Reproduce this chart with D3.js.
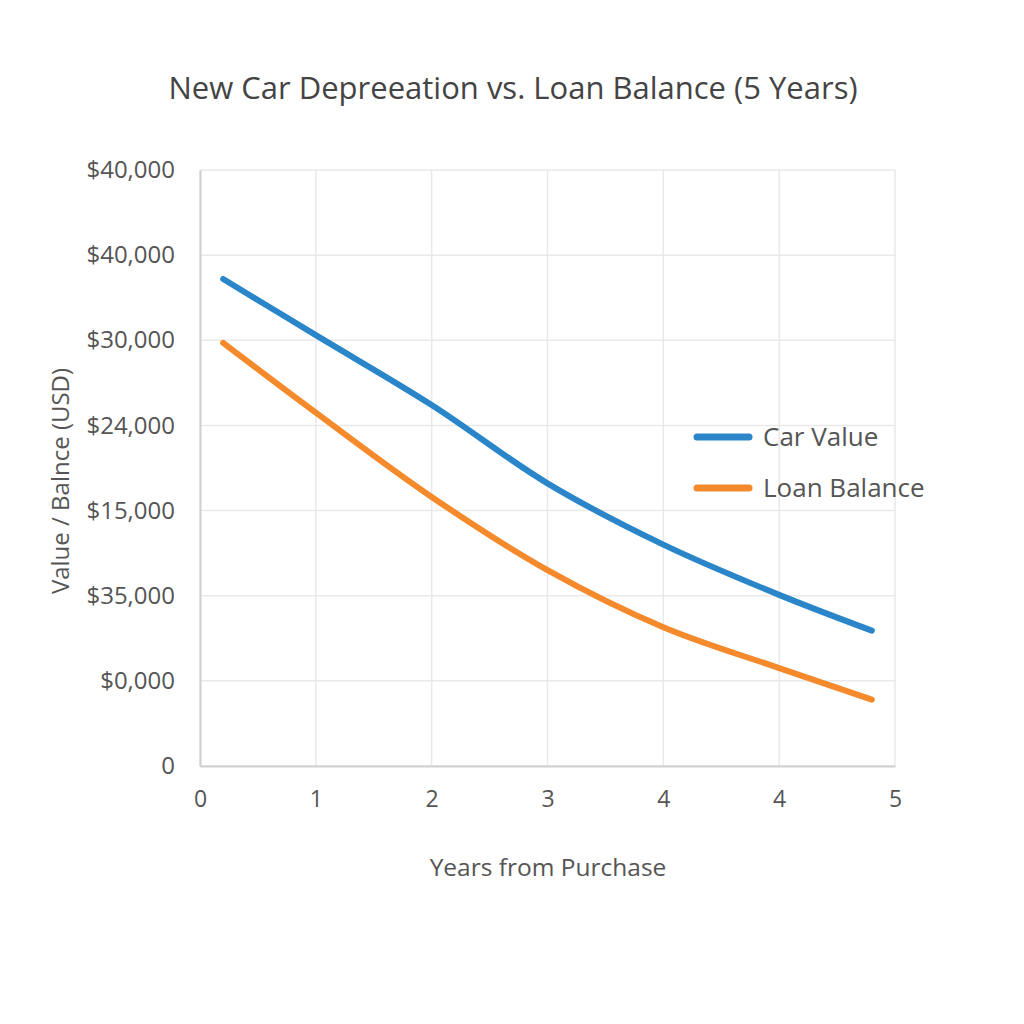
<!DOCTYPE html>
<html>
<head>
<meta charset="utf-8">
<script src="https://cdn.jsdelivr.net/npm/d3@7"></script>
<style>
  body { margin: 0; background: #fff; }
  text { font-family: "Open Sans", "Noto Sans", sans-serif; }
</style>
</head>
<body>
<div id="chart"></div>
<script>
// positions along the x axis (grid index) and tick labels as printed
let xTickLabels = ["0", "1", "2", "3", "4", "4", "5"];
let yTickLabels = ["0", "$0,000", "$35,000", "$15,000", "$24,000", "$30,000", "$40,000", "$40,000"];

let xPoints = [0.2, 1, 2, 3, 4, 5, 5.8];
let carValue = [28600, 25300, 21200, 16600, 13000, 10050, 7950];
let loanBalance = [24850, 20750, 15800, 11500, 8150, 5750, 3900];

let seriesNames = ["Car Value", "Loan Balance"];
let seriesColors = ["#2a86c9", "#f48a2c"];

let width = 1024, height = 1024;
let margin = {top: 170, right: 129, bottom: 258, left: 200};
let innerW = width - margin.left - margin.right;
let innerH = height - margin.top - margin.bottom;

let svg = d3.select("#chart")
    .append("svg")
    .attr("width", width)
    .attr("height", height);

let x = d3.scaleLinear().domain([0, 6]).range([margin.left, margin.left + innerW]);
let y = d3.scaleLinear().domain([0, 35000]).range([margin.top + innerH, margin.top]);
let yTicks = d3.range(0, 35001, 5000);

// gridlines
svg.append("g")
    .selectAll("line")
    .data(yTicks)
    .enter()
    .append("line")
    .attr("x1", x(0)).attr("x2", x(6))
    .attr("y1", d => y(d)).attr("y2", d => y(d))
    .attr("stroke", "#e9e9e9")
    .attr("stroke-width", 1.5);

svg.append("g")
    .selectAll("line")
    .data(d3.range(0, 7))
    .enter()
    .append("line")
    .attr("x1", d => x(d)).attr("x2", d => x(d))
    .attr("y1", y(0)).attr("y2", y(35000))
    .attr("stroke", "#e9e9e9")
    .attr("stroke-width", 1.5);

// axes
let xAxis = d3.axisBottom(x)
    .tickValues(d3.range(0, 7))
    .tickFormat((d, i) => xTickLabels[i])
    .tickSize(0)
    .tickPadding(25);
let gx = svg.append("g")
    .attr("transform", "translate(0," + y(0) + ")")
    .call(xAxis);
gx.select(".domain").attr("stroke", "#cfcfcf").attr("stroke-width", 2);
gx.selectAll("text").attr("font-size", 23).attr("fill", "#555")
    .style("font-family", "'Open Sans', sans-serif");

let yAxis = d3.axisLeft(y)
    .tickValues(yTicks)
    .tickFormat((d, i) => yTickLabels[i])
    .tickSize(0)
    .tickPadding(25);
let gy = svg.append("g")
    .attr("transform", "translate(" + x(0) + ",0)")
    .call(yAxis);
gy.select(".domain").attr("stroke", "#cfcfcf").attr("stroke-width", 2);
gy.selectAll("text").attr("font-size", 24).attr("fill", "#555")
    .style("font-family", "'Open Sans', sans-serif");

// lines
let line = d3.line()
    .x((d, i) => x(xPoints[i]))
    .y(d => y(d))
    .curve(d3.curveCatmullRom.alpha(0.5));

[carValue, loanBalance].forEach(function (data, k) {
    svg.append("path")
        .datum(data)
        .attr("d", line)
        .attr("fill", "none")
        .attr("stroke", seriesColors[k])
        .attr("stroke-width", 6)
        .attr("stroke-linecap", "round")
        .attr("stroke-linejoin", "round");
});

// legend
let legend = svg.append("g").attr("transform", "translate(697,437)");
seriesNames.forEach(function (name, k) {
    let g = legend.append("g").attr("transform", "translate(0," + (k * 51) + ")");
    g.append("line")
        .attr("x1", 0).attr("x2", 52)
        .attr("stroke", seriesColors[k])
        .attr("stroke-width", 7)
        .attr("stroke-linecap", "round");
    g.append("text")
        .attr("x", 66).attr("dy", "0.35em")
        .attr("font-size", 26)
        .attr("fill", "#555")
        .text(name);
});

// titles
svg.append("text")
    .attr("x", 513).attr("y", 99)
    .attr("text-anchor", "middle")
    .attr("font-size", 31)
    .attr("fill", "#444")
    .text("New Car Depreeation vs. Loan Balance (5 Years)");

svg.append("text")
    .attr("x", 548).attr("y", 876)
    .attr("text-anchor", "middle")
    .attr("font-size", 24.5)
    .attr("fill", "#555")
    .text("Years from Purchase");

svg.append("text")
    .attr("transform", "translate(69,481) rotate(-90)")
    .attr("text-anchor", "middle")
    .attr("font-size", 24)
    .attr("fill", "#555")
    .text("Value / Balnce (USD)");
</script>
</body>
</html>
